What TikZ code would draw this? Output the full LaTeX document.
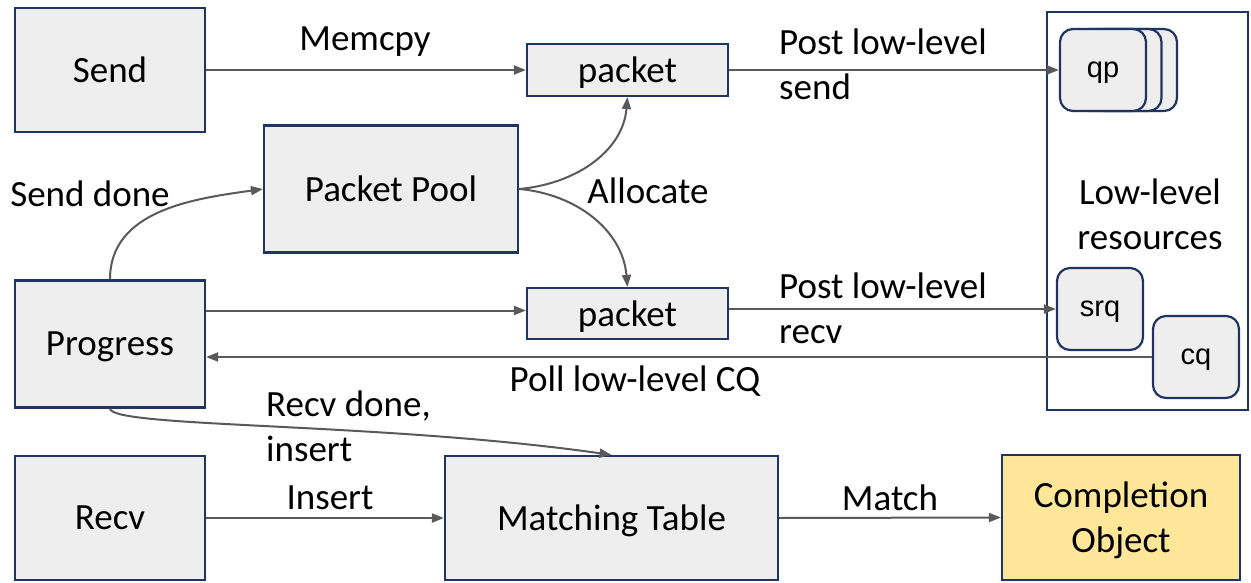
\documentclass[tikz,border=0pt]{standalone}
\usepackage{fontspec}
\setmainfont{Carlito}
\newfontfamily\arialfont{Liberation Sans}
\usetikzlibrary{arrows.meta}
\definecolor{boxfill}{HTML}{EEEEEE}
\definecolor{boxline}{HTML}{1F3461}
\definecolor{arrowgray}{HTML}{595959}
\definecolor{yellowfill}{HTML}{FFE699}
\tikzset{
  box/.style={draw=boxline, line width=2.2pt, fill=boxfill, font=\fontsize{37}{45}\selectfont, align=center, inner sep=0pt, text depth=0pt},
  res/.style={draw=boxline, line width=2.2pt, fill=boxfill, rounded corners=13pt, minimum width=86pt, minimum height=82pt, inner sep=0pt, text depth=0pt, font=\arialfont\fontsize{29}{30}\selectfont},
  conn/.style={draw=arrowgray, line width=2pt, -{Triangle[length=12pt,width=9pt]}},
  lbl/.style={font=\fontsize{37}{45}\selectfont, inner sep=0pt, align=left},
}
\begin{document}
\begin{tikzpicture}[x=1pt,y=-1pt]
\useasboundingbox (0,0) rectangle (1251,583);
% container
\node[draw=boxline, line width=2.2pt, minimum width=201pt, minimum height=398pt, inner sep=0pt] (lowres) at (1147.5,211) {};
% nodes
\node[box, minimum width=190pt, minimum height=124pt] (send) at (110,70) {Send};
\node[box, minimum width=254pt, minimum height=127pt] (pool) at (391,189) {Packet Pool};
\node[box, minimum width=190pt, minimum height=127pt] (progress) at (110,344) {Progress};
\node[box, minimum width=190pt, minimum height=124pt] (recv) at (110,518) {Recv};
\node[box, minimum width=201pt, minimum height=52pt] (pkt1) at (627.5,70) {packet};
\node[box, minimum width=201pt, minimum height=51pt] (pkt2) at (627.5,313.5) {packet};
\node[box, minimum width=333pt, minimum height=124pt] (match) at (611.5,518) {Matching Table};
\node[box, fill=yellowfill, minimum width=238pt, minimum height=125pt] (compl) at (1121,517.5) {Completion\\Object};
% resources
\node[res] (qpc) at (1134,70) {};
\node[res] (qpb) at (1118.5,70) {};
\node[res] (qp) at (1103,70) {qp};
\node[res] (srq) at (1100,309) {srq};
\node[res] (cq) at (1196,357) {cq};
% labels
\node[lbl, align=center] (lowlbl) at (1150,214) {Low-level\\resources};
\node[lbl] (memcpy) at (365,42) {Memcpy};
\node[lbl, anchor=west] (pls) at (779,64) {Post low-level\\send};
\node[lbl] (alloc) at (648,191) {Allocate};
\node[lbl] (sdone) at (90,194) {Send done};
\node[lbl, anchor=west] (plr) at (779,308) {Post low-level\\recv};
\node[lbl] (poll) at (635,381) {Poll low-level CQ};
\node[lbl, anchor=west] (rdone) at (266,426) {Recv done,\\insert};
\node[lbl] (ins) at (330,498) {Insert};
\node[lbl] (mlbl) at (890,498) {Match};
% connectors
\draw[conn] (send.east) -- (pkt1.west);
\draw[conn] (pkt1.east) -- (qp.west);
\draw[conn] (pool.east) to[out=5,in=-95] (pkt1.south);
\draw[conn] (pool.east) to[out=-5,in=95] (pkt2.north);
\draw[conn] (progress.north) to[out=90,in=188] (pool.west);
\draw[conn] (progress.east |- pkt2.west) ++(0,-3) coordinate (pe) (pe) -- (pe -| pkt2.west);
\draw[conn] (pkt2.east |- srq.west) -- (srq.west);
\draw[conn] (cq.west) -- (cq.west -| progress.east);
\draw[conn] (progress.south) .. controls (112,428) and (380,422) .. (match.north);
\draw[conn] (recv.east) -- (match.west);
\draw[conn] (match.east) -- (compl.west);
\end{tikzpicture}
\end{document}
